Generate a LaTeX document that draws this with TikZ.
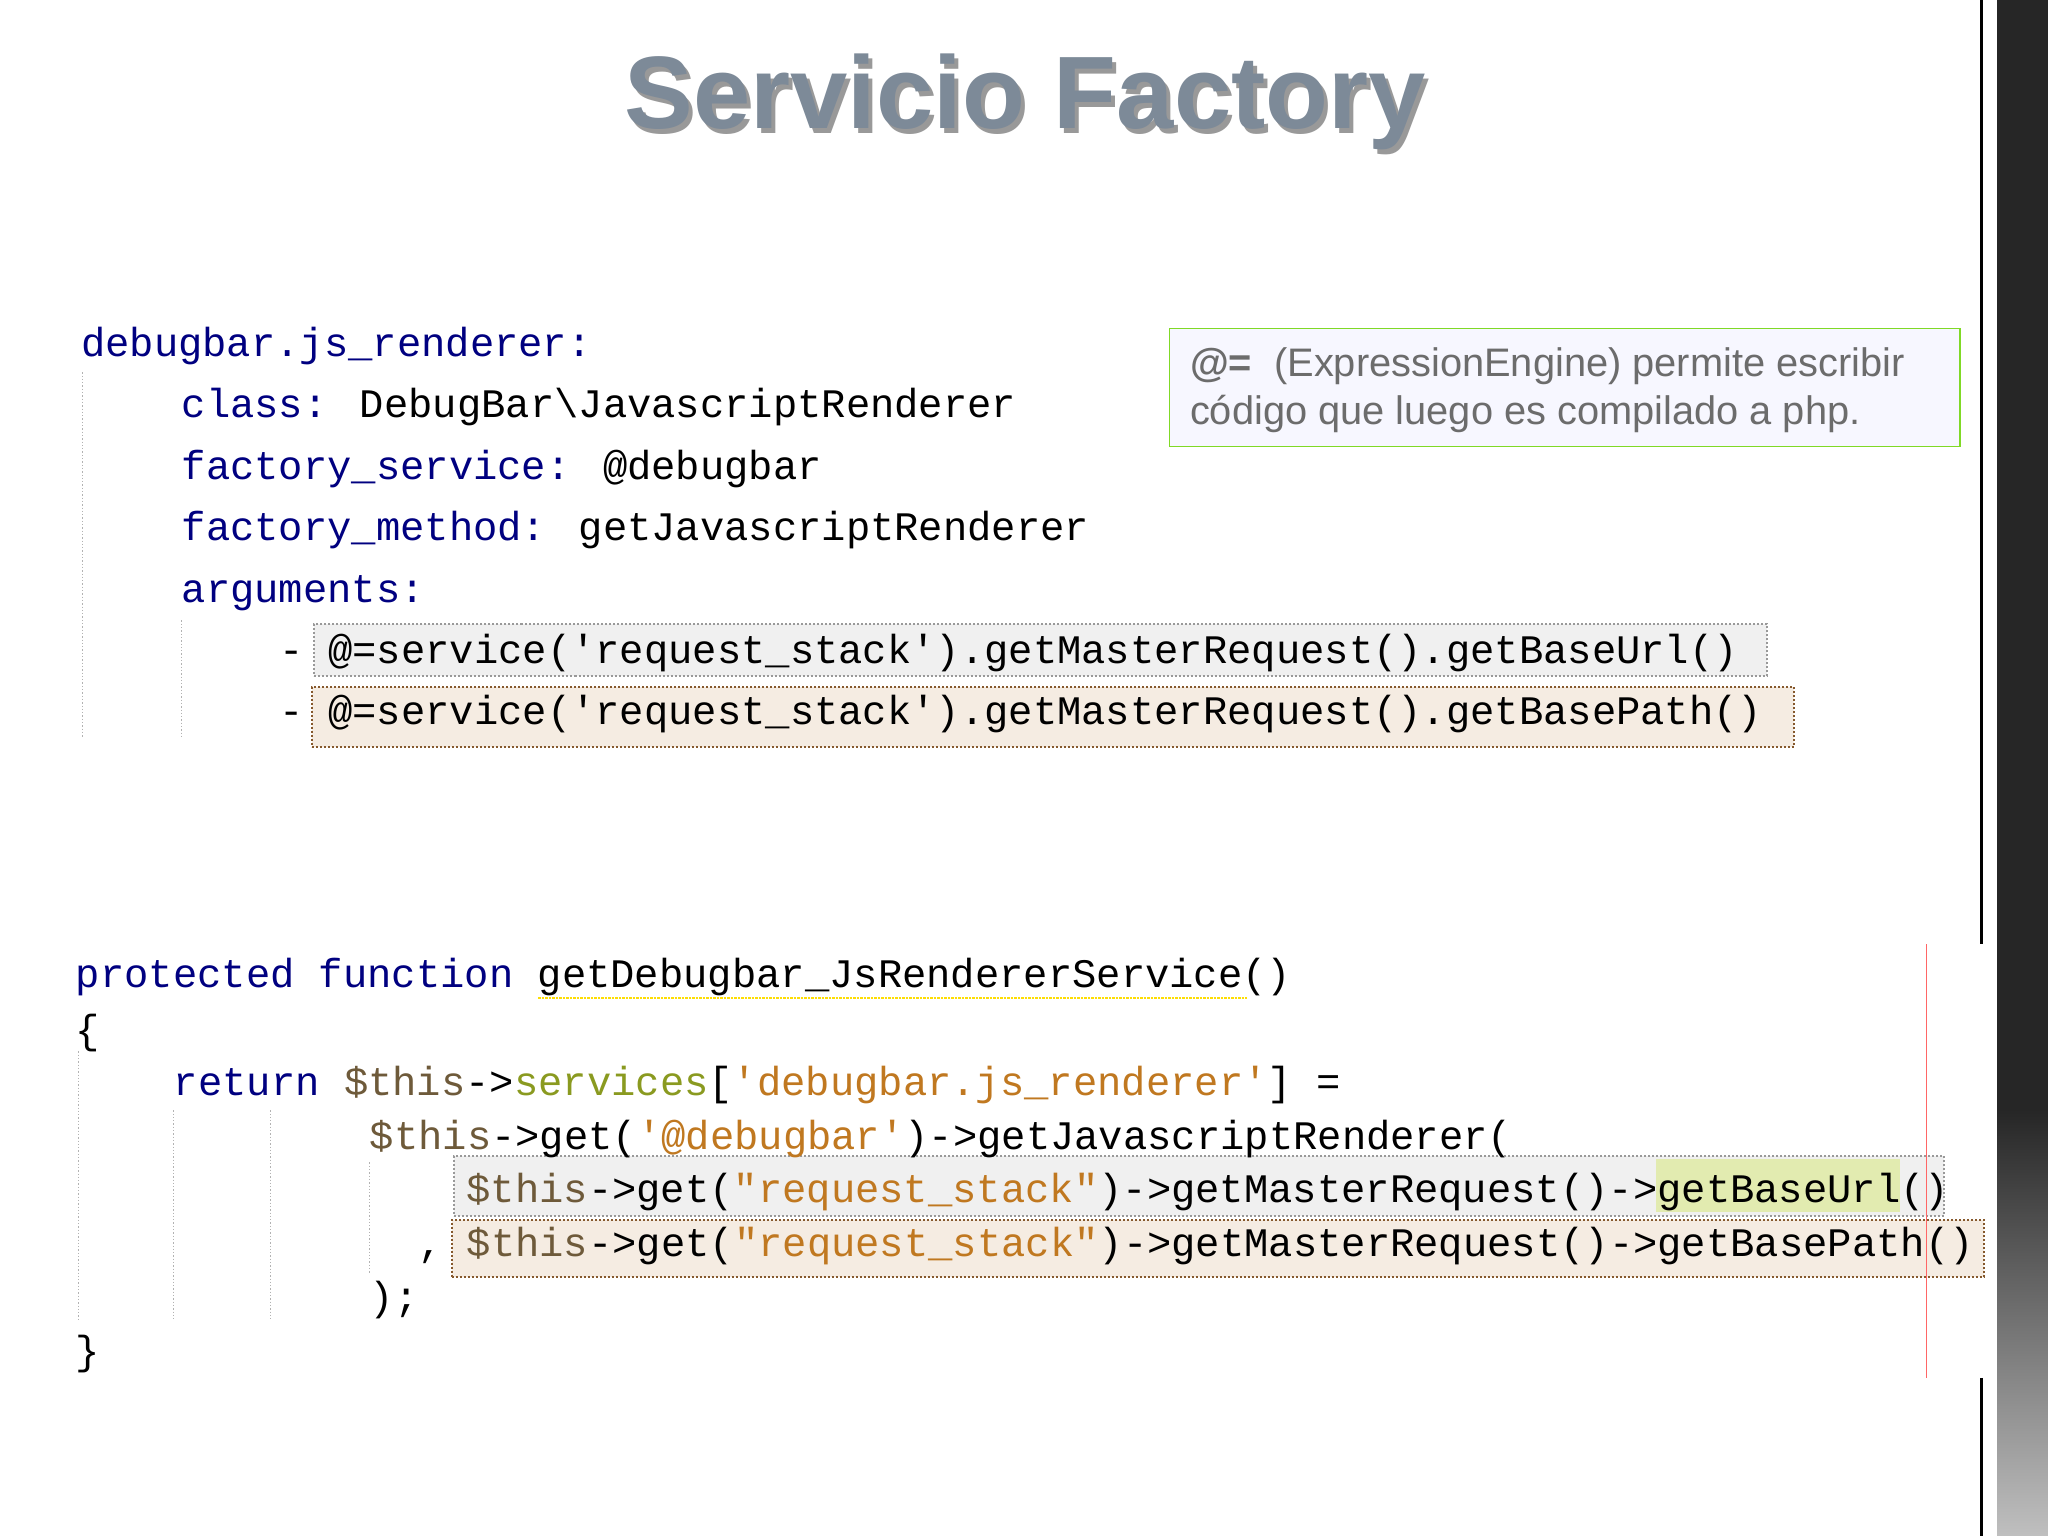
\documentclass[tikz,border=0pt]{standalone}
\usepackage{fontspec}
\setmainfont{Liberation Sans}
\newfontfamily\code{Liberation Mono}
\definecolor{kw}{HTML}{000080}
\definecolor{str}{HTML}{C07820}
\definecolor{olv}{HTML}{8A9A20}
\definecolor{thisc}{HTML}{6E5A3A}
\definecolor{ttl}{HTML}{7D8A98}
\definecolor{hl}{HTML}{E2EBB0}
\tikzset{
  cl/.style={anchor=base west,inner sep=0pt,font=\code\fontsize{40.5}{40.5}\selectfont},
  guide/.style={draw=gray!60,dotted,line width=1.3pt},
  argA/.style={draw=gray!80,dotted,line width=2pt,fill=gray!12},
  argB/.style={draw=brown!70!black,dotted,line width=2pt,fill=brown!15!white},
}
\begin{document}
\begin{tikzpicture}[x=1.306pt,y=-1.306pt]
\useasboundingbox (0,0) rectangle (1568,1176);
\fill[white] (0,0) rectangle (1568,1176);
% right decoration
\fill[black!85] (1529,0) rectangle (1568,850);
\shade[top color=black!85,bottom color=black!25] (1529,850) rectangle (1568,1176);
\draw[black,line width=3pt] (1517,0) -- (1517,723);
\draw[black,line width=3pt] (1517,1055) -- (1517,1176);
% title with shadow
\node[font=\bfseries\fontsize{103}{103}\selectfont,text=black!40] (tsh) at (788,82) {Servicio Factory};
\node[font=\bfseries\fontsize{103}{103}\selectfont,text=ttl] (title) at (785,78) {Servicio Factory};
% note
\node[draw=green!50!yellow!70!gray,line width=1.5pt,fill=blue!3,minimum width=790pt,minimum height=118pt,anchor=north west,inner sep=0pt] (note) at (895,251) {};
\node[anchor=west,align=left,text=gray!85!black,font=\fontsize{39.8}{48}\selectfont,inner sep=0pt] (notetxt) at (911,299) {\textbf{@=}\ \ (ExpressionEngine) permite escribir\\código que luego es compilado a php.};
% top code guides
\draw[guide] (63,285) -- (63,565);
\draw[guide] (139,475) -- (139,565);
% arg boxes
\node[argA,anchor=north west,minimum width=1452pt,minimum height=52pt,inner sep=0pt] (ba) at (240,477) {};
\node[argB,anchor=north west,minimum width=1482pt,minimum height=60pt,inner sep=0pt] (bb) at (238,525) {};
% top code
\node[cl,text=kw] (t1) at (62,273) {debugbar.js\_renderer:};
\node[cl] (t2) at (139,320) {\textcolor{kw}{class:} DebugBar\textbackslash JavascriptRenderer};
\node[cl] (t3) at (139,367) {\textcolor{kw}{factory\_service:} @debugbar};
\node[cl] (t4) at (139,414) {\textcolor{kw}{factory\_method:} getJavascriptRenderer};
\node[cl,text=kw] (t5) at (139,461) {arguments:};
\node[cl] (t6) at (214,508) {- @=service('request\_stack').getMasterRequest().getBaseUrl()};
\node[cl] (t7) at (214,555) {- @=service('request\_stack').getMasterRequest().getBasePath()};
% bottom guides
\draw[guide] (60,805) -- (60,1010);
\draw[guide] (133,850) -- (133,1010);
\draw[guide] (207,850) -- (207,1010);
\draw[guide] (283,890) -- (283,975);
% bottom boxes
\node[argA,anchor=north west,minimum width=1490pt,minimum height=60pt,inner sep=0pt] (bc) at (347,884) {};
\fill[hl] (1268,887) rectangle (1455,928);
\node[argB,anchor=north west,minimum width=1532pt,minimum height=57pt,inner sep=0pt] (bd) at (345,933) {};
\draw[red!60,line width=1.3pt] (1475,723) -- (1475,1055);
\draw[yellow!80!orange,densely dotted,line width=2.5pt] (412,764) -- (955,764);
% bottom code
\node[cl] (b1) at (58,756) {\textcolor{kw}{protected function} getDebugbar\_JsRendererService()};
\node[cl] (b2) at (58,799) {\{};
\node[cl] (b3) at (133,839) {\textcolor{kw}{return} \textcolor{thisc}{\$this}->\textcolor{olv}{services}[\textcolor{str}{'debugbar.js\_renderer'}] =};
\node[cl] (b4) at (283,880) {\textcolor{thisc}{\$this}->get(\textcolor{str}{'@debugbar'})->getJavascriptRenderer(};
\node[cl] (b5) at (357,921) {\textcolor{thisc}{\$this}->get(\textcolor{str}{"request\_stack"})->getMasterRequest()->getBaseUrl()};
\node[cl] (b6) at (320,962) {, \textcolor{thisc}{\$this}->get(\textcolor{str}{"request\_stack"})->getMasterRequest()->getBasePath()};
\node[cl] (b7) at (283,1003) {);};
\node[cl] (b8) at (58,1045) {\}};
\end{tikzpicture}
\end{document}
